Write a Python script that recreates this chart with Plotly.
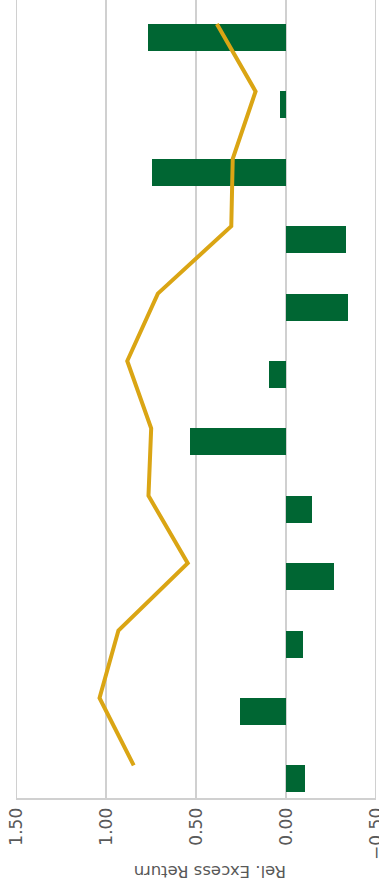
import plotly.graph_objects as go

# Twelve periods, listed top to bottom
periods = list(range(12))

# Relative excess return per period (bars)
excess_return = [0.769, 0.031, 0.742, -0.331, -0.342, 0.097,
                 0.531, -0.142, -0.269, -0.092, 0.258, -0.108]

# Cumulative / tracking series (line)
tracking_line = [0.384, 0.169, 0.296, 0.304, 0.712, 0.882,
                 0.749, 0.764, 0.546, 0.931, 1.036, 0.846]

# Value axis ticks
tick_values = [1.5, 1.0, 0.5, 0.0, -0.5]
tick_labels = ["1.50", "1.00", "0.50", "0.00", "\u22120.50"]

axis_title = "Rel. Excess Return"

GREEN = "rgb(0,102,51)"
GOLD = "rgb(218,165,20)"
GRID = "#d0d0d0"
TEXT = "#595959"

bar_offset = 0.2
bar_width = 0.4

W, H = 379, 892
M_L, M_R, M_T, M_B = 16, 3, 0, 94
plot_w = W - M_L - M_R
plot_h = H - M_T - M_B

fig = go.Figure()

fig.add_trace(go.Bar(
    x=excess_return,
    y=[p + bar_offset for p in periods],
    orientation="h",
    width=bar_width,
    marker=dict(color=GREEN, line=dict(width=0)),
    hoverinfo="skip",
))

fig.add_trace(go.Scatter(
    x=tracking_line,
    y=periods,
    mode="lines",
    line=dict(color=GOLD, width=4),
    hoverinfo="skip",
))

# gridlines at both ends of the value range
edge_shapes = [
    dict(type="line", xref="x", yref="paper", x0=v, x1=v, y0=0, y1=1,
         line=dict(color=GRID, width=2), layer="below")
    for v in (tick_values[0], tick_values[-1])
]

fig.update_layout(
    width=W,
    height=H,
    autosize=False,
    margin=dict(l=M_L, r=M_R, t=M_T, b=M_B, autoexpand=False),
    paper_bgcolor="white",
    plot_bgcolor="white",
    showlegend=False,
    bargap=0,
    xaxis=dict(
        range=[1.5, -0.5],
        tickvals=tick_values,
        ticktext=tick_labels,
        tickangle=-90,
        tickfont=dict(family="DejaVu Sans", size=17, color=TEXT),
        ticklabeloverflow="allow",
        automargin=False,
        showgrid=True,
        gridcolor=GRID,
        gridwidth=2,
        zeroline=False,
        showline=True,
        linecolor=GRID,
        linewidth=2,
        ticks="",
        ticklabelstandoff=1,
    ),
    yaxis=dict(
        range=[11.484, -0.356],
        showticklabels=False,
        showgrid=False,
        zeroline=False,
        showline=False,
        ticks="",
        automargin=False,
    ),
    shapes=edge_shapes,
    annotations=[dict(
        text=axis_title,
        x=(210 - M_L) / plot_w,
        xref="paper",
        xanchor="center",
        y=-(872 - plot_h) / plot_h,
        yref="paper",
        yanchor="middle",
        showarrow=False,
        textangle=180,
        font=dict(family="DejaVu Sans", size=16.5, color=TEXT),
    )],
)

fig.write_html("out.html", config={"responsive": False})
